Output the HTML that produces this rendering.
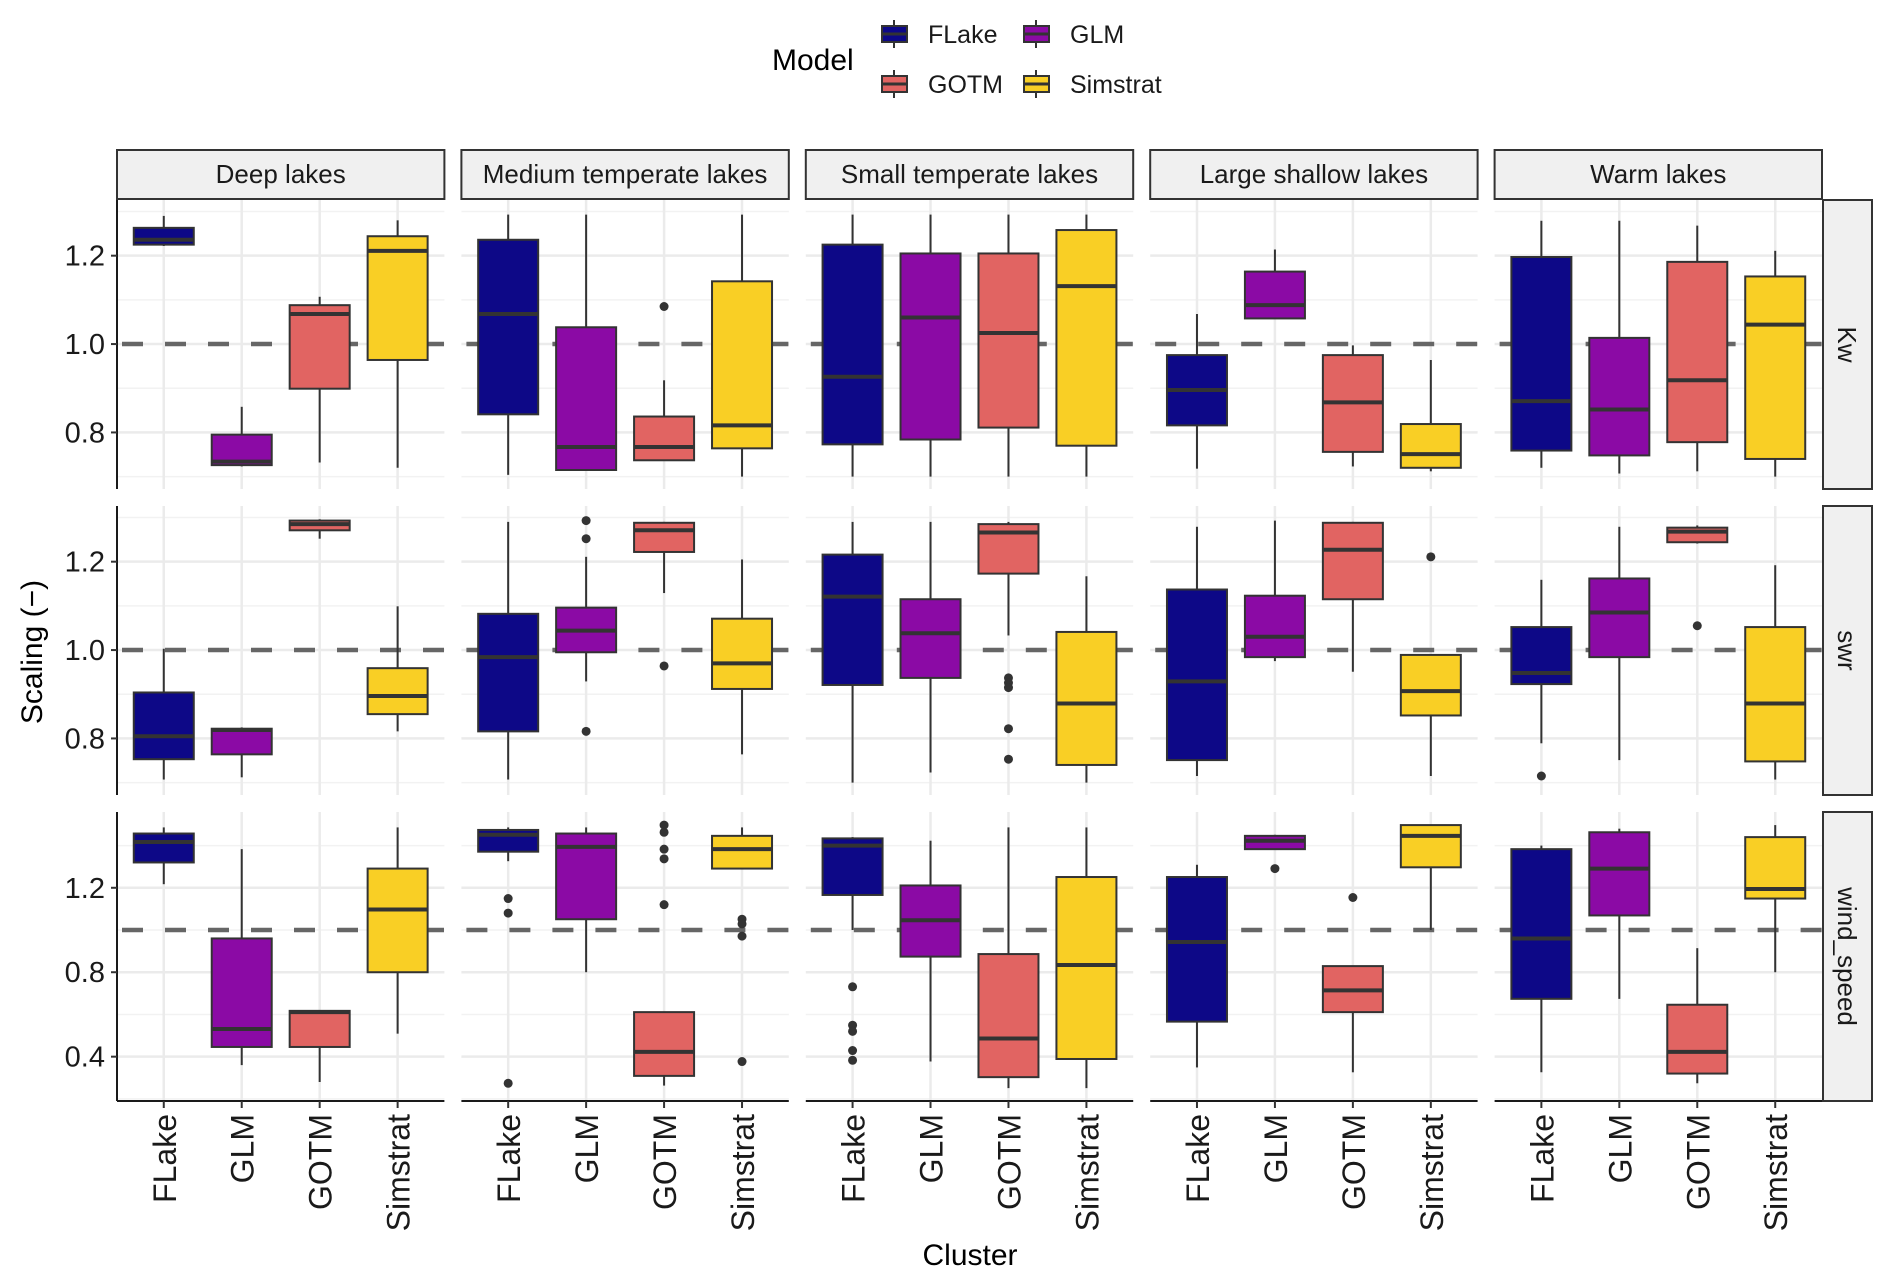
<!DOCTYPE html>
<html><head><meta charset="utf-8"><style>
body{margin:0;background:#fff}
svg{display:block;font-family:"Liberation Sans",Arial,sans-serif}
</style></head><body>
<svg id="chart" width="1892" height="1285" viewBox="0 0 1892 1285" xmlns="http://www.w3.org/2000/svg"></svg>
<script>
const models=["FLake","GLM","GOTM","Simstrat"];
const clusters=["Deep lakes","Medium temperate lakes","Small temperate lakes","Large shallow lakes","Warm lakes"];
const variables=["Kw","swr","wind_speed"];
const colors=["#0d0887","#8b0aa5","#e16462","#f9cf25"];
// per variable, 20 values: cluster-major, model-minor
const kwLow=[1.222,0.723,0.732,0.72, 0.704,0.715,0.737,0.70, 0.70,0.70,0.70,0.70, 0.718,1.058,0.723,0.712, 0.72,0.707,0.712,0.70];
const kwQ1=[1.225,0.726,0.899,0.964, 0.841,0.715,0.737,0.764, 0.773,0.784,0.811,0.77, 0.816,1.058,0.756,0.72, 0.759,0.748,0.778,0.74];
const kwMed=[1.236,0.734,1.068,1.211, 1.068,0.767,0.767,0.816, 0.926,1.06,1.025,1.131, 0.896,1.088,0.868,0.751, 0.871,0.852,0.918,1.044];
const kwQ3=[1.263,0.795,1.088,1.244, 1.236,1.038,0.836,1.142, 1.225,1.205,1.205,1.258, 0.975,1.164,0.975,0.819, 1.197,1.014,1.186,1.153];
const kwHigh=[1.29,0.858,1.107,1.28, 1.293,1.293,0.918,1.293, 1.293,1.293,1.293,1.293, 1.068,1.214,0.997,0.964, 1.279,1.279,1.268,1.211];
const swrLow=[0.707,0.712,1.252,0.816, 0.707,0.929,1.129,0.764, 0.70,0.723,1.033,0.70, 0.715,0.975,0.951,0.715, 0.789,0.751,1.241,0.707];
const swrQ1=[0.753,0.764,1.271,0.855, 0.816,0.995,1.222,0.912, 0.921,0.937,1.173,0.74, 0.751,0.984,1.115,0.852, 0.923,0.984,1.244,0.748];
const swrMed=[0.805,0.819,1.285,0.896, 0.984,1.044,1.271,0.97, 1.121,1.038,1.266,0.879, 0.929,1.03,1.227,0.907, 0.948,1.085,1.268,0.879];
const swrQ3=[0.904,0.822,1.293,0.959, 1.082,1.096,1.288,1.071, 1.216,1.115,1.285,1.041, 1.137,1.123,1.288,0.989, 1.052,1.162,1.277,1.052];
const swrHigh=[1.003,0.825,1.296,1.099, 1.29,1.211,1.29,1.205, 1.29,1.29,1.29,1.167, 1.279,1.293,1.29,0.989, 1.159,1.279,1.282,1.192];
const windLow=[1.217,0.36,0.28,0.509, 1.326,0.8,0.263,1.291, 1.0,0.377,0.251,0.251, 0.349,1.383,0.326,1.0, 0.326,0.674,0.274,0.8];
const windQ1=[1.32,0.446,0.446,0.8, 1.371,1.051,0.309,1.291, 1.166,0.874,0.303,0.389, 0.566,1.383,0.611,1.297, 0.674,1.069,0.32,1.149];
const windMed=[1.417,0.531,0.611,1.097, 1.451,1.394,0.423,1.383, 1.4,1.046,0.486,0.834, 0.943,1.423,0.714,1.446, 0.96,1.291,0.423,1.194];
const windQ3=[1.457,0.96,0.617,1.291, 1.474,1.457,0.611,1.446, 1.434,1.211,0.886,1.251, 1.251,1.446,0.829,1.497, 1.383,1.463,0.646,1.44];
const windHigh=[1.486,1.383,0.617,1.486, 1.486,1.486,0.611,1.486, 1.44,1.423,1.486,1.486, 1.309,1.451,0.829,1.497, 1.4,1.48,0.914,1.497];
// outliers
const outVarIdx=[0,1,1,1,1,1,1,1,1,1,1,1,1, 2,2,2,2,2,2,2,2,2,2,2,2,2,2,2,2,2,2,2];
const outCluster=[1,1,1,1,1,2,2,2,2,2,3,4,4, 1,1,1,1,1,1,1,1,1,1,1,1,2,2,2,2,2,3,3];
const outModel=[2,1,1,1,2,2,2,2,2,2,3,0,2, 0,0,0,2,2,2,2,2,3,3,3,3,0,0,0,0,0,1,2];
const outValue=[1.085,1.293,1.252,0.816,0.964,0.937,0.926,0.915,0.822,0.753,1.211,0.715,1.055, 1.149,1.08,0.274,1.497,1.463,1.383,1.337,1.12,1.051,1.029,0.971,0.377,0.731,0.549,0.52,0.429,0.383,1.291,1.154];

const stats=[[kwLow,kwQ1,kwMed,kwQ3,kwHigh],[swrLow,swrQ1,swrMed,swrQ3,swrHigh],[windLow,windQ1,windMed,windQ3,windHigh]];
const yMin=[0.672,0.672,0.19], yMax=[1.326,1.326,1.559];
const majorTicks=[[0.8,1.0,1.2],[0.8,1.0,1.2],[0.4,0.8,1.2]];
const majorLabels=[["0.8","1.0","1.2"],["0.8","1.0","1.2"],["0.4","0.8","1.2"]];
const minorTicks=[[0.7,0.9,1.1,1.3],[0.7,0.9,1.1,1.3],[0.2,0.6,1.0,1.4]];

const NS="http://www.w3.org/2000/svg";
const svg=document.getElementById('chart');
function el(tag,attrs,parent,text){const e=document.createElementNS(NS,tag);for(const k in attrs)e.setAttribute(k,attrs[k]);if(text!==undefined)e.textContent=text;(parent||svg).appendChild(e);return e;}
const PX0=117,PW=327.4,GAP=17,PH=289;const rowTop=[200,506,812];
const panelX=c=>PX0+c*(PW+GAP);
const xPos=(c,m)=>panelX(c)+PW*(0.6+m)/4.2;
const yPos=(r,v)=>rowTop[r]+PH*(yMax[r]-v)/(yMax[r]-yMin[r]);
const BW=60;

clusters.forEach((name,c)=>{
  const g=el('g',{},svg);
  
  
  el('rect',{x:panelX(c),y:150,width:PW,height:49,fill:'#f0f0f0',stroke:'#333','stroke-width':2},g);
  el('text',{x:panelX(c)+PW/2,y:183,'text-anchor':'middle','font-size':26,fill:'#1a1a1a'},g,name);
});
variables.forEach((v,r)=>{
  const g=el('g',{},svg);
  
  
  el('rect',{x:1823,y:rowTop[r],width:49,height:PH,fill:'#f0f0f0',stroke:'#333','stroke-width':2},g);
  el('text',{x:0,y:0,'text-anchor':'middle','font-size':26,fill:'#1a1a1a',transform:`translate(${1838},${rowTop[r]+PH/2}) rotate(90)`},g,v);
});

for(let r=0;r<3;r++){
  for(let c=0;c<5;c++){
    const g=el('g',{},svg);
    
    
    const x0=panelX(c);
    minorTicks[r].forEach(t=>{const y=yPos(r,t);if(y>=rowTop[r]&&y<=rowTop[r]+PH)el('line',{x1:x0,x2:x0+PW,y1:y,y2:y,stroke:'#f2f2f2','stroke-width':1.5},g);});
    majorTicks[r].forEach(t=>{const y=yPos(r,t);el('line',{x1:x0,x2:x0+PW,y1:y,y2:y,stroke:'#ebebeb','stroke-width':2.5},g);});
    for(let m=0;m<4;m++){const x=xPos(c,m);el('line',{x1:x,x2:x,y1:rowTop[r],y2:rowTop[r]+PH,stroke:'#ebebeb','stroke-width':2.5},g);}
    const yr=yPos(r,1.0);
    const dl=el('line',{x1:x0,x2:x0+PW,y1:yr,y2:yr,stroke:'#666','stroke-width':4.5,'stroke-dasharray':'21,22','stroke-dashoffset':-5},g);
    
    
    for(let m=0;m<4;m++){
      const i=c*4+m;const s=stats[r];const x=xPos(c,m);
      const b=el('g',{},g);
      
      
      el('line',{x1:x,x2:x,y1:yPos(r,s[4][i]),y2:yPos(r,s[3][i]),stroke:'#333','stroke-width':2},b);
      el('line',{x1:x,x2:x,y1:yPos(r,s[1][i]),y2:yPos(r,s[0][i]),stroke:'#333','stroke-width':2},b);
      const yt=yPos(r,s[3][i]),yb=yPos(r,s[1][i]);
      el('rect',{x:x-BW/2,y:yt,width:BW,height:Math.max(yb-yt,0.5),fill:colors[m],stroke:'#333','stroke-width':2},b);
      const ym=yPos(r,s[2][i]);
      el('line',{x1:x-BW/2,x2:x+BW/2,y1:ym,y2:ym,stroke:'#333','stroke-width':4},b);
    }
    if(c===0){
      el('line',{x1:x0,x2:x0,y1:rowTop[r],y2:rowTop[r]+PH,stroke:'#1a1a1a','stroke-width':2},g);
      majorTicks[r].forEach((t,k)=>{const y=yPos(r,t);
        el('line',{x1:x0-6,x2:x0,y1:y,y2:y,stroke:'#333','stroke-width':2},g);
        const tl=el('text',{x:x0-12,y:y+10,'text-anchor':'end','font-size':29,fill:'#1a1a1a'},g,majorLabels[r][k]);
        
        });
    }
    if(r===2){
      const yb=rowTop[r]+PH;
      el('line',{x1:x0,x2:x0+PW,y1:yb,y2:yb,stroke:'#1a1a1a','stroke-width':2},g);
      for(let m=0;m<4;m++){const x=xPos(c,m);
        el('line',{x1:x,x2:x,y1:yb,y2:yb+7,stroke:'#333','stroke-width':2},g);
        const tl=el('text',{x:0,y:0,'text-anchor':'end','font-size':32,fill:'#1a1a1a',transform:`translate(${x+12},${yb+13}) rotate(-90)`},g,models[m]);
        
        }
    }
  }
}
for(let k=0;k<outValue.length;k++){
  const r=outVarIdx[k],c=outCluster[k],m=outModel[k];
  const p=el('circle',{cx:xPos(c,m),cy:yPos(r,outValue[k]),r:4.5,fill:'#333'});
  
  
}
</script>
<svg style="position:absolute;left:0;top:0" width="1892" height="1285" xmlns="http://www.w3.org/2000/svg" font-family="Liberation Sans, Arial, sans-serif">
  <text transform="translate(42,652) rotate(-90)" text-anchor="middle" font-size="30" fill="#000">Scaling (−)</text>
  <text x="970" y="1265" text-anchor="middle" font-size="30" fill="#000">Cluster</text>
  <g>
    <text x="772" y="70" font-size="30" fill="#000">Model</text>
    <g>
      <line x1="894" x2="894" y1="20" y2="48" stroke="#333" stroke-width="2"/>
      <rect x="882" y="26" width="25" height="16" fill="#0d0887" stroke="#333" stroke-width="2"/>
      <line x1="882" x2="907" y1="34" y2="34" stroke="#333" stroke-width="3"/>
      <text x="928" y="43" font-size="25" fill="#1a1a1a">FLake</text>
    </g>
    <g>
      <line x1="1036" x2="1036" y1="20" y2="48" stroke="#333" stroke-width="2"/>
      <rect x="1024" y="26" width="25" height="16" fill="#8b0aa5" stroke="#333" stroke-width="2"/>
      <line x1="1024" x2="1049" y1="34" y2="34" stroke="#333" stroke-width="3"/>
      <text x="1070" y="43" font-size="25" fill="#1a1a1a">GLM</text>
    </g>
    <g>
      <line x1="894" x2="894" y1="70" y2="98" stroke="#333" stroke-width="2"/>
      <rect x="882" y="76" width="25" height="16" fill="#e16462" stroke="#333" stroke-width="2"/>
      <line x1="882" x2="907" y1="84" y2="84" stroke="#333" stroke-width="3"/>
      <text x="928" y="93" font-size="25" fill="#1a1a1a">GOTM</text>
    </g>
    <g>
      <line x1="1036" x2="1036" y1="70" y2="98" stroke="#333" stroke-width="2"/>
      <rect x="1024" y="76" width="25" height="16" fill="#f9cf25" stroke="#333" stroke-width="2"/>
      <line x1="1024" x2="1049" y1="84" y2="84" stroke="#333" stroke-width="3"/>
      <text x="1070" y="93" font-size="25" fill="#1a1a1a">Simstrat</text>
    </g>
  </g>
</svg>
</body></html>
